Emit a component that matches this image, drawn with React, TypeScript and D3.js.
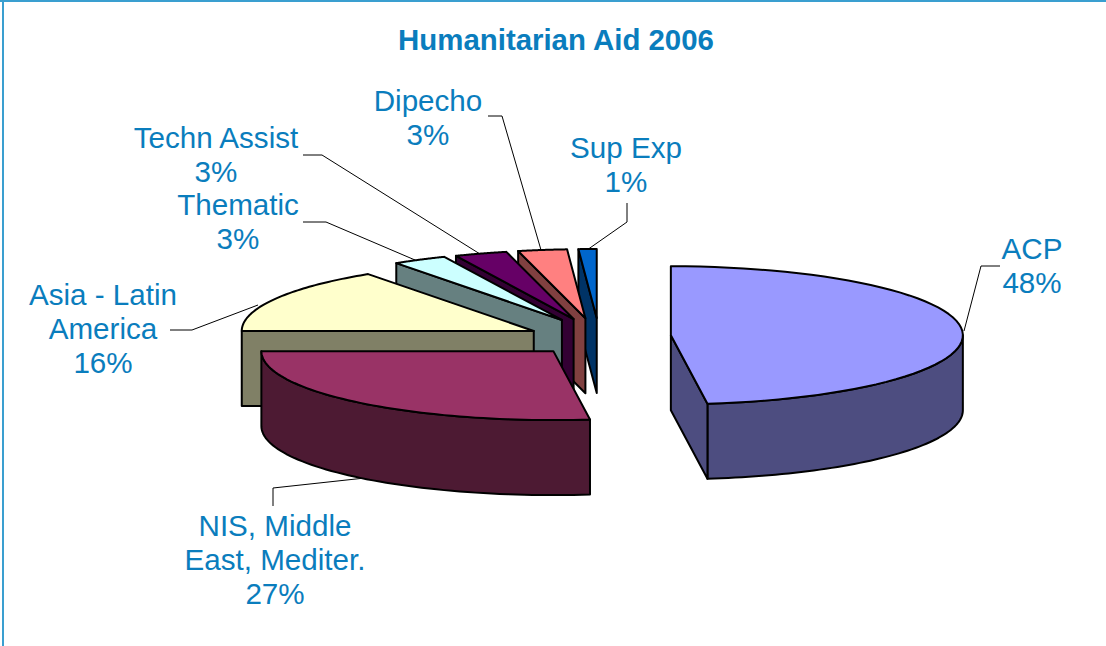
import React from "react";
import * as d3 from "d3";

const categories = ["ACP", "NIS, Middle East, Mediter.", "Asia - Latin America", "Thematic", "Techn Assist", "Dipecho", "Sup Exp"];
const values = [48, 27, 15.4, 3, 2.9, 2.7, 1];
const percentLabels = ["48%", "27%", "16%", "3%", "3%", "3%", "1%"];
const labelLines = [["ACP", "48%"], ["NIS, Middle", "East, Mediter.", "27%"], ["Asia - Latin", "America", "16%"], ["Thematic", "3%"], ["Techn Assist", "3%"], ["Dipecho", "3%"], ["Sup Exp", "1%"]];
const topColors = ["#9999ff", "#993366", "#ffffcc", "#ccffff", "#660066", "#ff8080", "#0066cc"];
const sideColors = ["#4d4d80", "#4d1a33", "#808066", "#668080", "#330033", "#804040", "#003366"];
const labelX = [1032, 275, 103, 238, 216, 428, 626];
const labelY = [249, 526, 295, 205, 138, 101, 148];
const nudgeX = [0, 2, -1.5, -2, -2.5, -3, 0];
const nudgeY = [0, 0, 3.5, 0.5, 1, 1, 1];
const leaders = [
  [[1000, 266], [981, 266], [964, 331]],
  [[365, 478], [273, 488], [273, 506]],
  [[258, 305], [192, 330], [170, 330]],
  [[303, 222], [326, 222], [415, 260]],
  [[303, 155], [322, 155], [480, 254]],
  [[488, 116], [502, 116], [541, 250]],
  [[627, 203], [627, 222], [587, 250]],
];

const CX = 599, CY = 336.5, EX = 72, EY = 19.5, RX = 292, RY = 69, DEPTH = 75;
const sx = d3.scaleLinear().domain([-1, 1]).range([-RX, RX]);
const sy = d3.scaleLinear().domain([-1, 1]).range([RY, -RY]);
const TEXT = "#0a7dbd";
const FONT = "'Liberation Sans', Arial, sans-serif";

const pieGen = d3.pie<number>().sort(null).startAngle(0).endAngle(2 * Math.PI);
const lineGen = d3.line();

export default function App() {
  const arcs = pieGen(values);
  const shapes = arcs.map((a, i) => {
    const mid = (a.startAngle + a.endAngle) / 2;
    const ax = CX + EX * Math.sin(mid) + nudgeX[i];
    const ay = CY - EY * Math.cos(mid) + nudgeY[i];
    const pt = (t: number, dz = 0): [number, number] => [ax + sx(Math.sin(t)), ay + sy(Math.cos(t)) + dz];
    const sample = (t0: number, t1: number, dz = 0) =>
      d3.range(0, 61).map((k) => pt(t0 + ((t1 - t0) * k) / 60, dz));
    const top = lineGen([[ax, ay], ...sample(a.startAngle, a.endAngle)]) + "Z";
    const faces: string[] = [];
    const lo = Math.max(a.startAngle, Math.PI / 2);
    const hi = Math.min(a.endAngle, (3 * Math.PI) / 2);
    if (hi > lo) {
      faces.push(lineGen([...sample(lo, hi), ...sample(hi, lo, DEPTH)]) + "Z");
    }
    const radial = (t: number) =>
      lineGen([[ax, ay], pt(t), pt(t, DEPTH), [ax, ay + DEPTH]]) + "Z";
    if (Math.cos(a.startAngle - Math.PI / 2) < -1e-6) faces.push(radial(a.startAngle));
    if (Math.cos(a.endAngle + Math.PI / 2) < -1e-6) faces.push(radial(a.endAngle));
    return { i, top, faces };
  });
  const order = shapes.slice().reverse();

  return (
    <svg width={1106} height={646} style={{ position: "absolute", left: 0, top: 0, background: "#fff" }}>
      <line x1={0} y1={1} x2={1106} y2={1} stroke="#3a9fd0" strokeWidth={2} />
      <line x1={3} y1={0} x2={3} y2={646} stroke="#3a9fd0" strokeWidth={2} />
      <text x={556} y={50} textAnchor="middle" fontFamily={FONT} fontWeight="bold" fontSize={29.4} fill={TEXT}>
        Humanitarian Aid 2006
      </text>
      {leaders.map((l, i) => (
        <path key={i} d={lineGen(l as [number, number][]) || ""} fill="none" stroke="#000" strokeWidth={1} />
      ))}
      {order.map((s) => (
        <g key={s.i} stroke="#000" strokeWidth={2} strokeLinejoin="round">
          {s.faces.map((d, k) => (
            <path key={k} d={d} fill={sideColors[s.i]} />
          ))}
          <path d={s.top} fill={topColors[s.i]} />
        </g>
      ))}
      {labelLines.map((lines, i) => (
        <text key={i} textAnchor="middle" fontFamily={FONT} fontSize={29.6} fill={TEXT} data-category={categories[i]} data-percent={percentLabels[i]}>
          {lines.map((t, k) => (
            <tspan key={k} x={labelX[i]} y={labelY[i] + 10 + k * 34}>{t}</tspan>
          ))}
        </text>
      ))}
    </svg>
  );
}
